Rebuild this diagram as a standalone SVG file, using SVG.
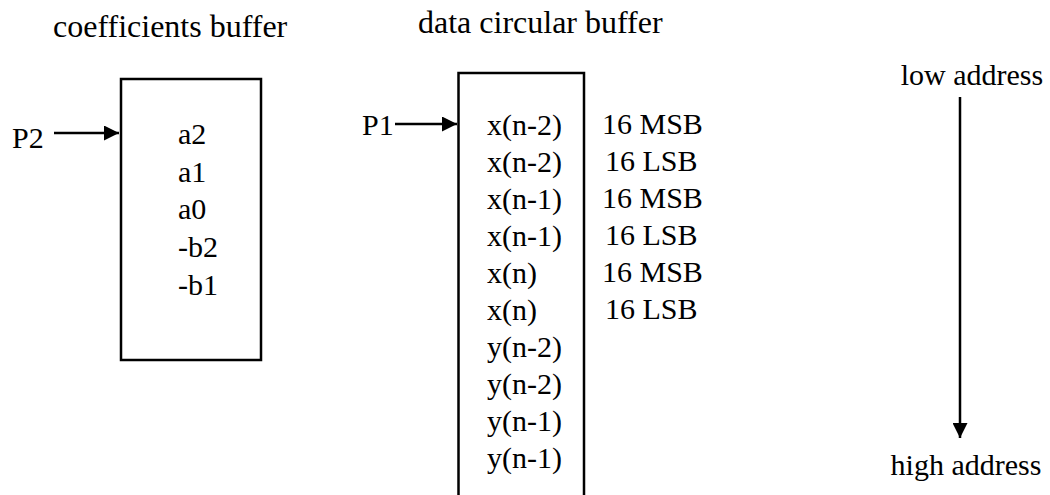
<svg xmlns="http://www.w3.org/2000/svg" width="1050" height="495" viewBox="0 0 1050 495" font-family="'Liberation Serif', 'Times New Roman', Times, serif">
  <style>
    text { font-family: "Liberation Serif", "Times New Roman", Times, serif; font-size: 30px; fill: #000; }
    .title { font-size: 32px; }
    .box { fill: #fff; stroke: #000; stroke-width: 2.5; }
    .wire { stroke: #000; stroke-width: 2.5; fill: none; }
  </style>
  <defs>
    <marker id="headBig" viewBox="0 0 10 10" refX="10" refY="5" markerWidth="18" markerHeight="15" markerUnits="userSpaceOnUse" orient="auto">
      <path d="M0,0 L10,5 L0,10 z" fill="#000"/>
    </marker>
  </defs>

  <!-- coefficients buffer -->
  <g id="coeff">
    <text class="title" x="53" y="37">coefficients buffer</text>
    <rect class="box" x="121" y="79" width="140" height="281"/>
    <text x="178" y="144">a2</text>
    <text x="178" y="182">a1</text>
    <text x="178" y="219">a0</text>
    <text x="178" y="257">-b2</text>
    <text x="178" y="295">-b1</text>
  </g>

  <!-- pointer label P2 -->
  <g id="p2">
    <text x="12" y="148">P2</text>
  </g>

  <!-- data circular buffer (open at the bottom) -->
  <g id="data">
    <text class="title" x="418" y="33">data circular buffer</text>
    <path class="wire" d="M458.5,500 L458.5,73 L584,73 L584,500"/>
    <text x="487" y="135">x(n-2)</text>
    <text x="487" y="172">x(n-2)</text>
    <text x="487" y="209">x(n-1)</text>
    <text x="487" y="246">x(n-1)</text>
    <text x="487" y="283">x(n)</text>
    <text x="487" y="320">x(n)</text>
    <text x="487" y="357">y(n-2)</text>
    <text x="487" y="394">y(n-2)</text>
    <text x="487" y="431">y(n-1)</text>
    <text x="487" y="468">y(n-1)</text>
  </g>

  <!-- word halves -->
  <g id="halves">
    <text x="602" y="134">16 MSB</text>
    <text x="605" y="171">16 LSB</text>
    <text x="602" y="208">16 MSB</text>
    <text x="605" y="245">16 LSB</text>
    <text x="602" y="282">16 MSB</text>
    <text x="605" y="319">16 LSB</text>
  </g>

  <!-- pointer label P1 -->
  <g id="p1">
    <text x="362" y="135">P1</text>
  </g>

  <!-- address direction -->
  <g id="addr">
    <text x="972" y="85" text-anchor="middle">low address</text>
    <text x="966" y="475" text-anchor="middle">high address</text>
  </g>

  <!-- connectors -->
  <g id="connectors">
    <line class="wire" x1="54" y1="133" x2="119" y2="133" marker-end="url(#headBig)"/>
    <line class="wire" x1="395" y1="124" x2="457" y2="124" marker-end="url(#headBig)"/>
    <line class="wire" x1="960" y1="97" x2="960" y2="438" marker-end="url(#headBig)"/>
  </g>
</svg>
